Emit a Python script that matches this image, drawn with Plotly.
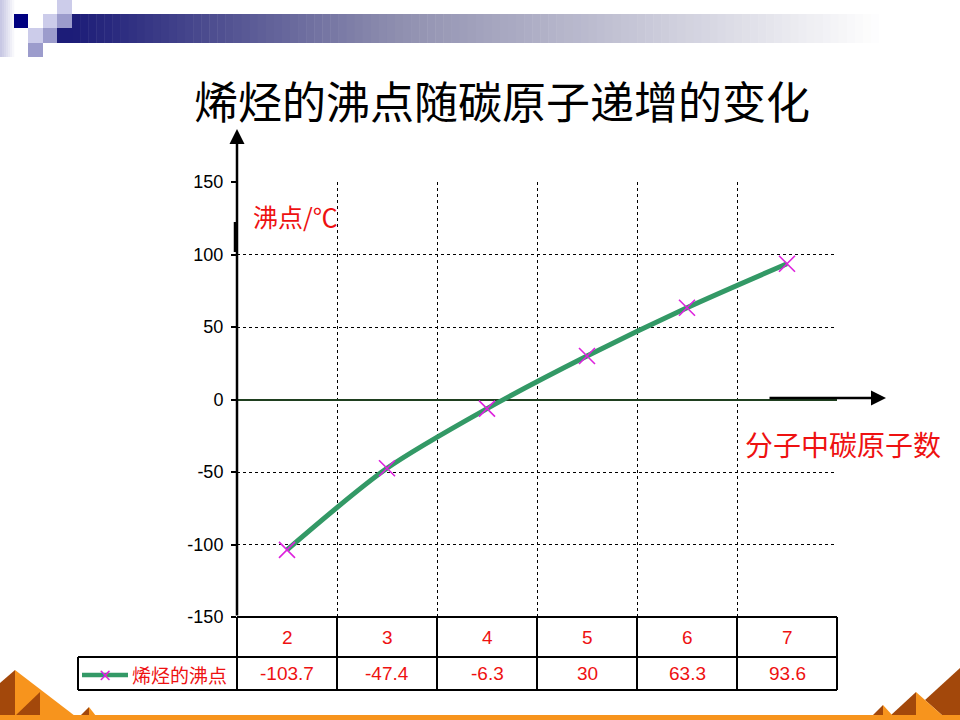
import plotly.graph_objects as go

# ---- data ----
carbons = [2, 3, 4, 5, 6, 7]
boiling_points = [-103.7, -47.4, -6.3, 30, 63.3, 93.6]
value_labels = ["-103.7", "-47.4", "-6.3", "30", "63.3", "93.6"]
series_name = "烯烃的沸点"
title_text = "烯烃的沸点随碳原子递增的变化"
y_label = "沸点/℃"
x_label = "分子中碳原子数"
y_ticks = [-150, -100, -50, 0, 50, 100, 150]
y_tick_text = ["-150", "-100", "-50", "0", "50", "100", "150"]

W, H = 960, 720
def px(x):
    return x / W
def py(y):
    return 1 - y / H

# plot area in pixels
L, R, T, B = 237, 837, 182, 617
RED = "#ee1111"
CJK = "Noto Sans CJK SC"
DARK = "#a3480b"
ORANGE = "#f7941d"

fig = go.Figure()
fig.add_trace(go.Scatter(
    x=carbons, y=boiling_points, mode="lines+markers", name=series_name,
    line=dict(color="#339966", width=5, shape="spline", smoothing=0.8),
    marker=dict(symbol="x-thin", size=16, color="#dd22dd",
                line=dict(color="#dd22dd", width=1.6)),
    showlegend=False, cliponaxis=False,
))

shapes = []
annotations = []

def rect(a, b, c, d, col):
    shapes.append(dict(type="rect", xref="paper", yref="paper",
                       x0=px(a), x1=px(c), y0=py(d), y1=py(b),
                       line=dict(width=0), fillcolor=col, layer="below"))

# top gradient bar
NAVY_BAR = (28, 28, 120)
MID = (144, 144, 176)
WHITE = (255, 255, 255)
def grad(x):
    if x <= 400:
        t = max(0.0, (x - 72) / (400 - 72))
        a, b = NAVY_BAR, MID
    else:
        t = min(1.0, (x - 400) / (880 - 400))
        a, b = MID, WHITE
    return tuple(int(a[k] + (b[k] - a[k]) * t) for k in range(3))

n = 110
x0, x1 = 72, 960
for i in range(n):
    xa = x0 + (x1 - x0) * i / n
    xb = x0 + (x1 - x0) * (i + 1) / n + 0.5
    rect(xa, 14, xb, 43, "rgb(%d,%d,%d)" % grad((xa + xb) / 2))
rect(57, 28, 72.5, 43, "rgb(%d,%d,%d)" % NAVY_BAR)

# small squares / left strip
for i in range(7):
    t = i / 7
    c = tuple(int(200 + (255 - 200) * t) for _ in range(2)) + (int(228 + 27 * t),)
    rect(2 * i, 0, 2 * i + 2.3, 57, "rgb(%d,%d,%d)" % c)
LIGHT, MEDIUM, NAVY = "#ccccea", "#9c9ccc", "#000080"
squares = [
    (14, 14, 28, 28, NAVY),
    (43, 14, 57, 28, LIGHT),
    (57, 14, 72, 28, MEDIUM),
    (57, 0, 72, 14, LIGHT),
    (28, 28, 43, 43, LIGHT),
    (43, 28, 57, 43, MEDIUM),
    (28, 43, 43, 57, MEDIUM),
]
for (a, b, c, d, col) in squares:
    rect(a, b, c, d, col)

# bottom orange decorations
def poly(pts, col):
    path = "M " + " L ".join("%f,%f" % (px(x), py(y)) for x, y in pts) + " Z"
    shapes.append(dict(type="path", xref="paper", yref="paper", path=path,
                       line=dict(width=0), fillcolor=col, layer="below"))
# left
poly([(0, 683), (15, 670), (15, 716), (0, 716)], DARK)
poly([(15, 670), (75, 716), (15, 716)], ORANGE)
poly([(15, 716), (40, 692), (40, 716)], DARK)
poly([(80, 716), (89, 707), (89, 716)], DARK)
poly([(89, 707), (96, 716), (89, 716)], ORANGE)
# right
poly([(925, 700), (960, 668), (960, 716), (943, 716)], DARK)
poly([(890, 716), (916, 692), (916, 716)], DARK)
poly([(916, 692), (943, 716), (916, 716)], ORANGE)
poly([(872, 716), (883, 705), (883, 716)], DARK)
poly([(883, 705), (893, 716), (883, 716)], ORANGE)
rect(0, 715, 960, 720, ORANGE)

# data table
TB1, TB2 = 657, 690
for xx in [L + 100 * i for i in range(7)]:
    shapes.append(dict(type="line", xref="paper", yref="paper",
                       x0=px(xx), x1=px(xx), y0=py(B), y1=py(TB2),
                       line=dict(color="black", width=2)))
shapes.append(dict(type="line", xref="paper", yref="paper",
                   x0=px(78), x1=px(78), y0=py(TB1), y1=py(TB2),
                   line=dict(color="black", width=2)))
for yy, xs in [(B, L), (TB1, 78), (TB2, 78)]:
    shapes.append(dict(type="line", xref="paper", yref="paper",
                       x0=px(xs), x1=px(R), y0=py(yy), y1=py(yy),
                       line=dict(color="black", width=2)))
# legend key inside table
shapes.append(dict(type="line", xref="paper", yref="paper",
                   x0=px(82), x1=px(128), y0=py(675), y1=py(675),
                   line=dict(color="#339966", width=4.5)))
annotations.append(dict(xref="paper", yref="paper", x=px(105), y=py(675),
                        text="×", showarrow=False, xanchor="center", yanchor="middle",
                        font=dict(family="DejaVu Sans", size=17, color="#dd22dd")))
annotations.append(dict(xref="paper", yref="paper", x=px(130), y=py(674),
                        text=series_name, showarrow=False, xanchor="left", yanchor="middle",
                        font=dict(family=CJK, size=19, color=RED)))
for c, v in zip(carbons, value_labels):
    annotations.append(dict(xref="x", yref="paper", x=c, y=py((B + TB1) / 2),
                            text=str(c), showarrow=False, yanchor="middle",
                            font=dict(family="Liberation Sans", size=19, color=RED)))
    annotations.append(dict(xref="x", yref="paper", x=c, y=py((TB1 + TB2) / 2),
                            text=v, showarrow=False, yanchor="middle",
                            font=dict(family="Liberation Sans", size=19, color=RED)))

# axis arrows
annotations.append(dict(xref="paper", yref="paper", x=px(237), y=py(129),
                        ax=0, ay=B - 129, axref="pixel", ayref="pixel",
                        showarrow=True, arrowhead=2, arrowsize=1.2, arrowwidth=2.5,
                        arrowcolor="black", text=""))
annotations.append(dict(xref="paper", yref="paper", x=px(886), y=py(398),
                        ax=-118, ay=0, axref="pixel", ayref="pixel",
                        showarrow=True, arrowhead=2, arrowsize=1.2, arrowwidth=2.5,
                        arrowcolor="black", text=""))
shapes.append(dict(type="line", xref="paper", yref="paper",
                   x0=px(235.5), x1=px(235.5), y0=py(222), y1=py(252),
                   line=dict(color="black", width=3.5)))

# titles / labels
annotations.append(dict(xref="paper", yref="paper", x=px(502), y=py(100),
                        text=title_text, showarrow=False, xanchor="center", yanchor="middle",
                        font=dict(family=CJK, size=44, color="black")))
annotations.append(dict(xref="paper", yref="paper", x=px(251), y=py(216),
                        text=y_label, showarrow=False, xanchor="left", yanchor="middle",
                        font=dict(family=CJK, size=25, color=RED)))
annotations.append(dict(xref="paper", yref="paper", x=px(743), y=py(444),
                        text=x_label, showarrow=False, xanchor="left", yanchor="middle",
                        font=dict(family=CJK, size=28, color=RED)))

fig.update_layout(
    width=W, height=H, margin=dict(l=0, r=0, t=0, b=0, pad=0, autoexpand=False),
    paper_bgcolor="white", plot_bgcolor="white",
    shapes=shapes, annotations=annotations,
    xaxis=dict(domain=[px(L), px(R)], range=[1.5, 7.5],
               tickvals=[2.5, 3.5, 4.5, 5.5, 6.5, 7.5], showticklabels=False,
               showgrid=True, gridcolor="black", griddash="dot", gridwidth=1,
               zeroline=False, showline=False, ticks="", automargin=False),
    yaxis=dict(domain=[py(B), py(T)], range=[-150, 150],
               tickvals=y_ticks, ticktext=y_tick_text,
               showgrid=True, gridcolor="black", griddash="dot", gridwidth=1,
               zeroline=True, zerolinecolor="#1f3f1f", zerolinewidth=2,
               showline=False, ticks="outside", ticklen=5, tickwidth=2,
               tickcolor="black", automargin=False, ticklabelstandoff=4,
               tickfont=dict(family="Liberation Sans", size=18, color="black")),
)

fig.write_html("out.html")
